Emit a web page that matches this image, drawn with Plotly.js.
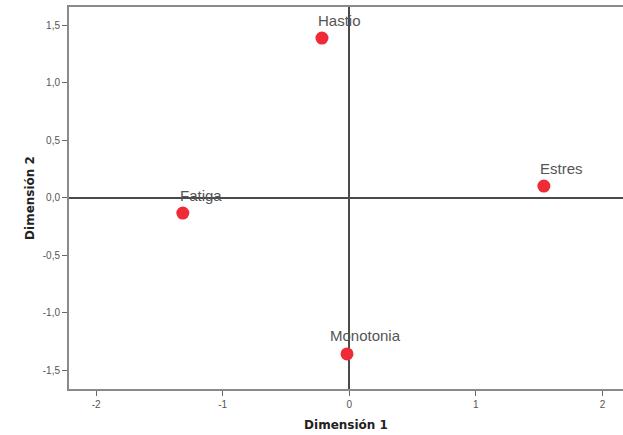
<!DOCTYPE html>
<html>
<head>
<meta charset="utf-8">
<script src="https://cdn.plot.ly/plotly-3.0.1.min.js"></script>
<style>html,body{margin:0;padding:0;background:#fff;}#chart{width:623px;height:435px;}</style>
</head>
<body>
<div id="chart"></div>
<script>
// Data
const labels = ["Hastio", "Fatiga", "Estres", "Monotonia"];
const dim1 = [-0.216, -1.315, 1.537, -0.018];
const dim2 = [1.387, -0.135, 0.100, -1.360];
const xTicks = [-2, -1, 0, 1, 2];
const xTickText = ["-2", "-1", "0", "1", "2"];
const yTicks = [-1.5, -1.0, -0.5, 0.0, 0.5, 1.0, 1.5];
const yTickText = ["-1,5", "-1,0", "-0,5", "0,0", "0,5", "1,0", "1,5"];

const annotations = labels.map((t, i) => ({
  x: dim1[i], y: dim2[i], xref: 'x', yref: 'y',
  text: t, showarrow: false,
  xshift: 18, yshift: 18,
  font: {family: 'Liberation Sans, Arial, sans-serif', size: 15, color: '#555555'}
}));

const trace = {
  type: 'scatter', mode: 'markers',
  x: dim1, y: dim2,
  marker: {color: '#ee2b36', size: 13, line: {width: 0}},
  hoverinfo: 'skip'
};

const layout = {
  width: 623, height: 435,
  margin: {l: 69, r: 0, t: 7, b: 46},
  paper_bgcolor: '#ffffff', plot_bgcolor: '#ffffff',
  showlegend: false,
  xaxis: {
    range: [-2.214, 2.162], tickvals: xTicks, ticktext: xTickText,
    showgrid: false, zeroline: true, zerolinecolor: '#4a4a4a', zerolinewidth: 2,
    showline: true, linecolor: '#8a8a8a', linewidth: 2, mirror: true,
    ticks: 'outside', ticklen: 5, tickcolor: '#666666', tickwidth: 1,
    tickfont: {family: 'Liberation Sans, Arial, sans-serif', size: 10, color: '#555555'},
    title: {text: 'Dimensión 1', standoff: 12,
      font: {family: 'DejaVu Sans, sans-serif', size: 12, color: '#222222', weight: 'bold'}}
  },
  yaxis: {
    range: [-1.665, 1.657], tickvals: yTicks, ticktext: yTickText,
    showgrid: false, zeroline: true, zerolinecolor: '#4a4a4a', zerolinewidth: 2,
    showline: true, linecolor: '#8a8a8a', linewidth: 2, mirror: false,
    ticks: 'outside', ticklen: 5, tickcolor: '#666666', tickwidth: 1,
    tickfont: {family: 'Liberation Sans, Arial, sans-serif', size: 10, color: '#555555'},
    title: {text: 'Dimensión 2', standoff: 6,
      font: {family: 'DejaVu Sans, sans-serif', size: 12, color: '#222222', weight: 'bold'}}
  },
  annotations: annotations
};

Plotly.newPlot('chart', [trace], layout, {staticPlot: true, displayModeBar: false});
</script>
</body>
</html>
